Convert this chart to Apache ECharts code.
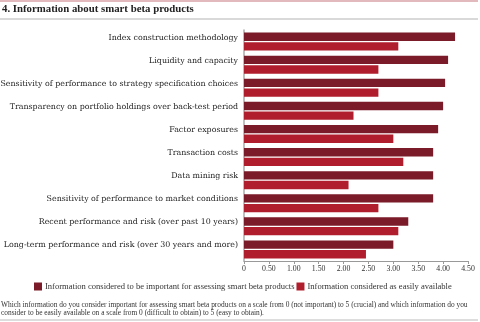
<!DOCTYPE html>
<html>
<head>
<meta charset="utf-8">
<script src="https://cdn.jsdelivr.net/npm/echarts@6/dist/echarts.min.js"></script>
<style>
html,body{margin:0;padding:0;background:#fff;}
#chart{width:480px;height:322px;}
</style>
</head>
<body>
<div id="chart"></div>
<script>
const categories = [
  "Index construction methodology",
  "Liquidity and capacity",
  "Sensitivity of performance to strategy specification choices",
  "Transparency on portfolio holdings over back-test period",
  "Factor exposures",
  "Transaction costs",
  "Data mining risk",
  "Sensitivity of performance to market conditions",
  "Recent performance and risk (over past 10 years)",
  "Long-term performance and risk (over 30 years and more)"
];
const importantValues = [4.24, 4.10, 4.04, 4.00, 3.90, 3.80, 3.80, 3.80, 3.30, 3.00];
const availableValues = [3.10, 2.70, 2.70, 2.20, 3.00, 3.20, 2.10, 2.70, 3.10, 2.45];
const seriesNames = [
  "Information considered to be important for assessing smart beta products",
  "Information considered as easily available"
];
const tickLabels = ["0", "0.50", "1.00", "1.50", "2.00", "2.50", "3.00", "3.50", "4.00", "4.50"];

const serif = "'Liberation Serif', 'DejaVu Serif', serif";
const dejavu = "'DejaVu Serif', 'Liberation Serif', serif";
const chart = echarts.init(document.getElementById('chart'), null, {renderer: 'canvas'});
chart.setOption({
  animation: false,
  backgroundColor: '#fff',
  textStyle: {fontFamily: serif},
  title: [{
    text: "4. Information about smart beta products",
    left: 2, top: 4, padding: 0,
    textStyle: {fontFamily: serif, fontSize: 10.8, fontWeight: 'bold', color: '#222'}
  }, {
    text: "Which information do you consider important for assessing smart beta products on a scale from 0 (not important) to 5 (crucial) and which information do you\nconsider to be easily available on a scale from 0 (difficult to obtain) to 5 (easy to obtain).",
    left: 1, top: 301, padding: 0,
    textStyle: {fontFamily: serif, fontSize: 7.4, fontWeight: 'normal', color: '#333', lineHeight: 8}
  }],
  graphic: [
    {type: 'line', shape: {x1: 0, y1: 1, x2: 478, y2: 1}, style: {stroke: '#d8a3a8', lineWidth: 1.5}},
    {type: 'line', shape: {x1: 0, y1: 19, x2: 478, y2: 19}, style: {stroke: '#cccccc', lineWidth: 1.5}},
    {type: 'line', shape: {x1: 0, y1: 320, x2: 478, y2: 320}, style: {stroke: '#bbbbbb', lineWidth: 1}}
  ],
  legend: {
    data: seriesNames,
    left: 29, top: 277,
    itemWidth: 8, itemHeight: 8, itemGap: 2,
    icon: 'rect',
    textStyle: {fontFamily: serif, fontSize: 8.55, color: '#333', padding: [0, 0, 0, -2]}
  },
  grid: {left: 244, right: 12, top: 30, bottom: 61, containLabel: false, outerBoundsMode: 'none'},
  xAxis: {
    type: 'value', min: 0, max: 4.5, interval: 0.5,
    axisLine: {show: true, lineStyle: {color: '#999', width: 1}},
    axisTick: {show: true, length: 3, lineStyle: {color: '#999'}},
    splitLine: {show: false},
    axisLabel: {
      margin: 4, fontSize: 7.8, color: '#333', fontFamily: serif,
      formatter: function (v) { return tickLabels[Math.round(v / 0.5)]; }
    }
  },
  yAxis: {
    type: 'category', data: categories, inverse: true,
    axisLine: {show: true, lineStyle: {color: '#aaa', width: 1.5}},
    axisTick: {show: false},
    axisLabel: {margin: 6, fontSize: 7.9, color: '#222', fontFamily: dejavu,
      verticalAlign: 'bottom', lineHeight: 8}
  },
  series: [{
    name: seriesNames[0], type: 'bar', data: importantValues,
    itemStyle: {color: '#7b1a28'},
    barGap: '15%', barCategoryGap: '22%'
  }, {
    name: seriesNames[1], type: 'bar', data: availableValues,
    itemStyle: {color: '#b01e2d'},
    barGap: '15%', barCategoryGap: '22%'
  }]
});
</script>
</body>
</html>
